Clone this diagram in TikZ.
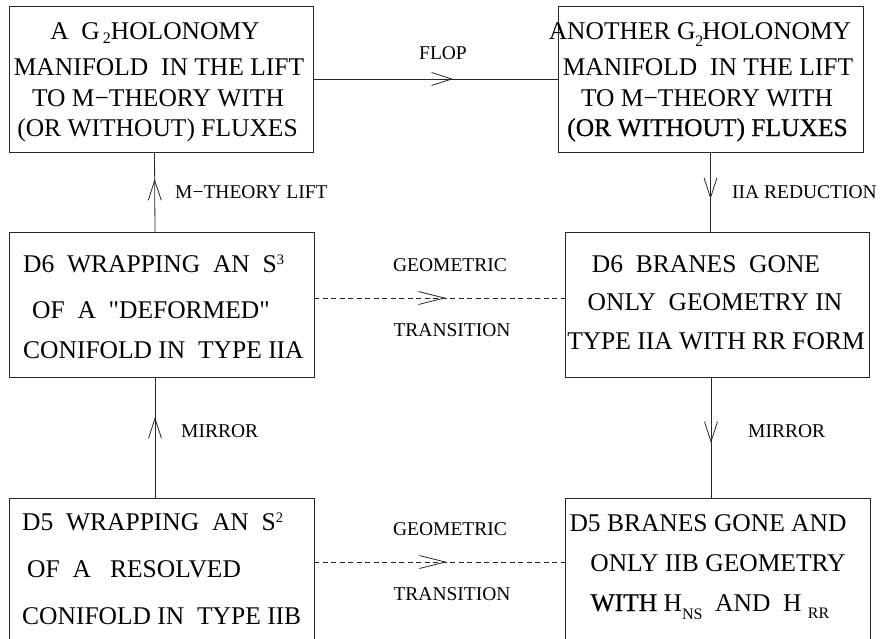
\documentclass[tikz,border=0pt]{standalone}
\usepackage{fontspec}
\setmainfont{Liberation Serif}
\newfontfamily\heavyfont{Liberation Serif}[FakeBold=0.6]
\newfontfamily\qfont{Liberation Serif}[Ligatures=TeXOff]
\usetikzlibrary{arrows.meta,decorations.markings,calc}
\newcommand\supr[1]{\raisebox{8pt}{\fontsize{14.5}{14.5}\selectfont #1}}
\newcommand\subl[2][4pt]{\raisebox{-#1}{\fontsize{16}{16}\selectfont #2}}
\newcommand\sq{{\qfont"}}
\tikzset{
  box/.style={draw=black!85, line width=0.8pt, inner sep=0pt, outer sep=0pt},
  boxtext/.style={font=\fontsize{25.5}{30}\selectfont, inner sep=0pt},
  lbl/.style={font=\fontsize{19.5}{22}\selectfont, inner sep=0pt},
  conn/.style={draw=black!85, line width=0.8pt},
  dashconn/.style={conn, dash pattern=on 5pt off 3.5pt},
  chev/.style={postaction={decorate}, decoration={markings,
      mark=at position #1 with {\pgfsetdash{}{0pt}\arrow{Straight Barb[length=20pt,width=13pt,line width=0.8pt]}}}},
  longchev/.style={postaction={decorate}, decoration={markings,
      mark=at position #1 with {\pgfsetdash{}{0pt}\arrow{Straight Barb[length=26pt,width=13pt,line width=0.8pt]}}}}
}
\begin{document}
\begin{tikzpicture}[x=1pt,y=-1pt]
\path[use as bounding box] (0,0) rectangle (881,638);
\clip (0,0) rectangle (881,638);

% boxes
\node[box, minimum width=304pt, minimum height=146pt] (tl) at (161,79) {};
\node[box, minimum width=305pt, minimum height=146pt] (tr) at (710.5,79) {};
\node[box, minimum width=305pt, minimum height=145pt] (ml) at (161.5,304.5) {};
\node[box, minimum width=304pt, minimum height=145pt] (mr) at (717,304.5) {};
\node[box, minimum width=305pt, minimum height=162pt] (bl) at (161.5,579) {};
\node[box, minimum width=305pt, minimum height=162pt] (br) at (717.5,579) {};

% top-left text
\node[boxtext, anchor=base] (tl1) at (155,39) {A\ \ G\kern3pt\subl{2}HOLONOMY};
\node[boxtext, anchor=base] (tl2) at (159,75) {MANIFOLD\ \ IN THE LIFT};
\node[boxtext, anchor=base] (tl3) at (158,106) {TO M−THEORY WITH};
\node[boxtext, anchor=base] (tl4) at (157.5,136) {(OR WITHOUT) FLUXES};

% top-right text
\node[boxtext, anchor=base] (tr1) at (700,39) {ANOTHER G\subl[7pt]{2}\kern-1pt HOLONOMY};
\node[boxtext, anchor=base] (tr2) at (708,75) {MANIFOLD\ \ IN THE LIFT};
\node[boxtext, anchor=base] (tr3) at (707,106) {TO M−THEORY WITH};
\node[boxtext, anchor=base] (tr4) at (707.5,136) {\heavyfont (OR WITHOUT) FLUXES};

% middle-left text
\node[boxtext, anchor=base west] (ml1) at (23,272) {D6\ \ WRAPPING\ \ AN\ \ S\supr{3}};
\node[boxtext, anchor=base west] (ml2) at (32,318) {OF\ \ A\ \ \sq DEFORMED\sq};
\node[boxtext, anchor=base west] (ml3) at (23,358) {CONIFOLD IN\ \ TYPE IIA};

% middle-right text
\node[boxtext, anchor=base] (mr1) at (706,272) {D6\ \ BRANES\ \ GONE};
\node[boxtext, anchor=base] (mr2) at (715,310) {ONLY\ \ GEOMETRY IN};
\node[boxtext, anchor=base] (mr3) at (716,349) {TYPE IIA WITH RR FORM};

% bottom-left text
\node[boxtext, anchor=base west] (bl1) at (22,530) {D5\ \ WRAPPING\ \ AN\ \ S\supr{2}};
\node[boxtext, anchor=base west] (bl2) at (27,577) {OF\ \ A\ \ \ RESOLVED};
\node[boxtext, anchor=base west] (bl3) at (22,624) {CONIFOLD IN\ \ TYPE IIB};

% bottom-right text
\node[boxtext, anchor=base] (br1) at (708,531) {D5 BRANES GONE AND};
\node[boxtext, anchor=base] (br2) at (718,571) {ONLY IIB GEOMETRY};
\node[boxtext, anchor=base] (br3) at (710,611) {{\heavyfont WITH} H\subl[8pt]{NS}\ \ AND\ \ H\ \subl[7pt]{RR}};

% connectors
\draw[conn, chev=0.571] (tl.east) -- (tr.west);
\draw[conn, chev=0.6625] ([xshift=-6.5pt]ml.north) -- ([xshift=-6.5pt]tl.south);
\draw[conn, chev=0.5875] (tr.south) -- (tr.south |- mr.north);
\draw[dashconn, longchev=0.526] ([yshift=6.5pt]ml.east) -- ([yshift=6.5pt]mr.west);
\draw[conn, chev=0.669] ([xshift=-6.5pt]bl.north) -- ([xshift=-6.5pt]ml.south);
\draw[conn, chev=0.545] ([xshift=-6pt]mr.south) -- ([xshift=-6pt]mr.south |- br.north);
\draw[dashconn, longchev=0.53] ($(bl.north east)+(0,64)$) -- ($(br.north west)+(0,64)$);

% labels
\node[lbl, anchor=base] (flop) at (443,59) {FLOP};
\node[lbl, anchor=base west] (lift) at (175,198) {M−THEORY LIFT};
\node[lbl, anchor=base west] (red) at (732,198) {IIA REDUCTION};
\node[lbl, anchor=base] (geo1) at (450,271) {GEOMETRIC};
\node[lbl, anchor=base] (tra1) at (452,336) {TRANSITION};
\node[lbl, anchor=base west] (mir1) at (181,437) {MIRROR};
\node[lbl, anchor=base west] (mir2) at (748,437) {MIRROR};
\node[lbl, anchor=base] (geo2) at (450,535) {GEOMETRIC};
\node[lbl, anchor=base] (tra2) at (452,600) {TRANSITION};
\end{tikzpicture}
\end{document}
